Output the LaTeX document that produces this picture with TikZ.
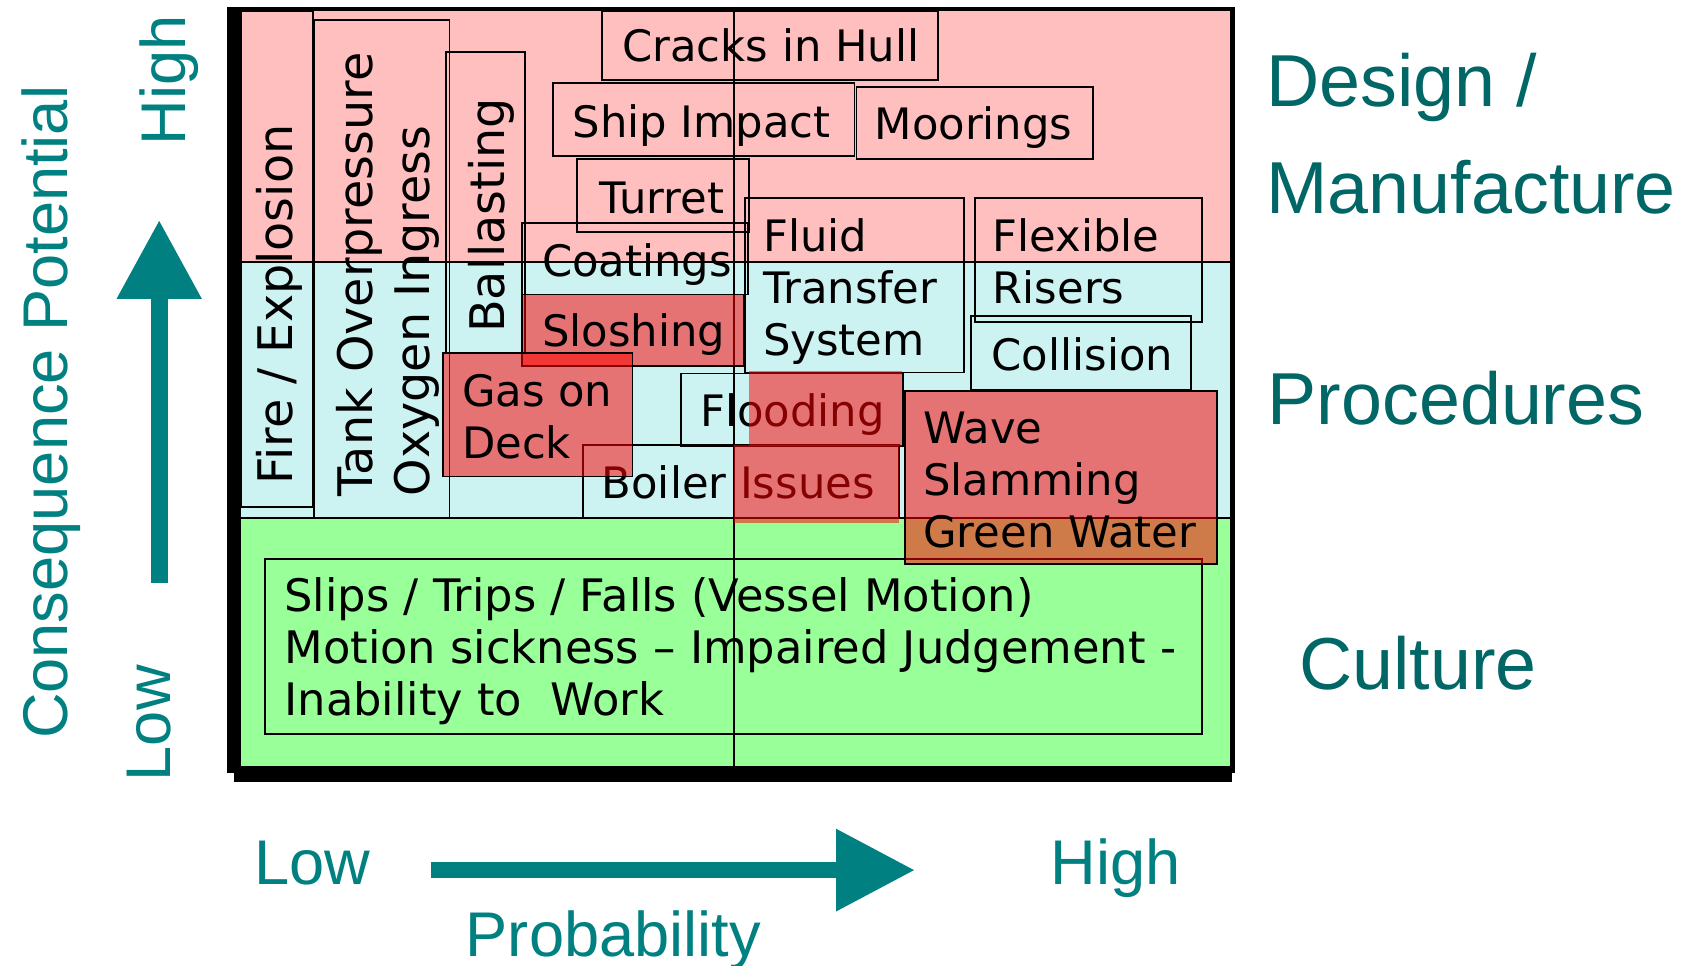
\documentclass[tikz,border=0pt]{standalone}
\usepackage{fontspec}
\newfontfamily\boxfont{DejaVu Sans}
\newfontfamily\axisfont{Liberation Sans}
\usetikzlibrary{arrows.meta}
\definecolor{riskpink}{RGB}{255,191,191}
\definecolor{riskcyan}{RGB}{204,242,242}
\definecolor{riskgreen}{RGB}{153,255,153}
\definecolor{axisteal}{RGB}{0,128,128}
\definecolor{bandteal}{RGB}{0,102,102}

\begin{document}
\begin{tikzpicture}[x=0.3pt,y=-0.3pt,
  hazard/.style={draw=black,line width=0.5pt},
  hot/.style={hazard,fill=red,fill opacity=0.52},
  hztext/.style={font=\boxfont\fontsize{12}{14.4}\selectfont,inner sep=0pt,anchor=base west,align=left},
  vtext/.style={font=\boxfont\fontsize{13.2}{16}\selectfont,inner sep=0pt,anchor=base west,align=left,rotate=90},
  axislabel/.style={font=\axisfont\fontsize{17.5}{21}\selectfont,text=axisteal,inner sep=0pt,anchor=base west},
  bandlabel/.style={font=\axisfont\fontsize{20.4}{29.7}\selectfont,text=bandteal,inner sep=0pt,anchor=base west,align=left}]
\useasboundingbox (0,0) rectangle (1568,892);

% frame with its shadow
\fill[black] (210,6.5) rectangle (1140.5,714);
\fill[black] (216,714) rectangle (1137.5,722);
% bands
\fill[riskpink] (223,10) rectangle (1136,242);
\fill[riskcyan] (223,242) rectangle (1136,478);
\fill[riskgreen] (223,478) rectangle (1136,707);
\draw[line width=0.5pt] (223,242) -- (1136,242);
\draw[line width=0.5pt] (223,478) -- (1136,478);
\draw[line width=0.5pt] (677.5,10) -- (677.5,707);

% upright hazards (multi-line texts sit on their last baseline)
\draw[hazard] (556,10) rectangle (866,74);
\node[hztext] (cracks) at (574,56.5) {Cracks in Hull};
\draw[hazard] (511,77) rectangle (789,144);
\node[hztext] (impact) at (528,127) {Ship Impact};
\draw[hazard] (791,80) rectangle (1009,147);
\node[hztext] (moorings) at (807,129) {Moorings};
\draw[hazard] (533,147) rectangle (692,214);
\node[hztext] (turret) at (553,197) {Turret};
\draw[hazard] (482,206) rectangle (691,272);
\node[hztext] (coatings) at (500,255) {Coatings};
\draw[hazard] (688,183) rectangle (890,344);
\node[hztext] (fluid) at (704,328) {Fluid\\Transfer\\System};
\draw[hazard] (900,183) rectangle (1110,297);
\node[hztext] (risers) at (916,280) {Flexible\\Risers};
\draw[hazard] (897,292) rectangle (1100,360);
\node[hztext] (collision) at (915,342) {Collision};
\draw[hazard] (629,345) rectangle (834,412);
\node[hztext] (flooding) at (646,394) {Flooding};
\draw[hazard] (538,411) rectangle (830,478);
\node[hztext] (boiler) at (555,460) {Boiler Issues};
\draw[hazard] (245,516) rectangle (1110,678);
\node[hztext,font=\boxfont\fontsize{12.4}{14.4}\selectfont] (slips) at (262,661) {Slips / Trips / Falls (Vessel Motion)\\Motion sickness – Impaired Judgement -\\Inability to\ \ Work};

% hazards written sideways
\draw[hazard] (223,10) rectangle (289,468);
\node[vtext] (fire) at (270,448) {Fire / Explosion};
\draw[hazard] (290,18.5) rectangle (415,478);
\node[vtext] (tank) at (397,459) {Tank Overpressure\\Oxygen Ingress};
\draw[hazard] (412,48) rectangle (485,326);
\node[vtext] (ballast) at (466,308) {Ballasting};

% red hot spots
\draw[hot] (482,272) rectangle (687,338);
\node[hztext] (sloshing) at (500,320) {Sloshing};
\draw[hot] (409,326) rectangle (584,440);
\node[hztext] (gas) at (426,423) {Gas on\\Deck};
\draw[hot] (836,361) rectangle (1124,521);
\node[hztext] (wave) at (852,506) {Wave\\Slamming\\Green Water};
\fill[red,fill opacity=0.52] (692,343) rectangle (833,412);
\fill[red,fill opacity=0.52] (678,411) rectangle (830,483);

% band names
\node[bandlabel] (design) at (1169,197) {Design /\\Manufacture};
\node[bandlabel] (procedures) at (1170,391.6) {Procedures};
\node[bandlabel] (culture) at (1199,637) {Culture};

% axes
\node[axislabel,rotate=90] (consequence) at (62,683) {Consequence Potential};
\node[axislabel,rotate=90] (cphigh) at (171,134.6) {High};
\node[axislabel,rotate=90] (cplow) at (157,722) {Low};
\coordinate (cpfoot) at (147,538);
\coordinate (cptip) at (147,203);
\draw[axisteal,line width=4.8pt,-{Triangle[width=22.2pt,length=21.9pt]}] (cpfoot) -- (cptip);
\node[axislabel] (problow) at (234,817) {Low};
\node[axislabel] (probhigh) at (969.5,817) {High};
\node[axislabel] (probability) at (429.5,883.5) {Probability};
\coordinate (prfoot) at (398,803.5);
\coordinate (prtip) at (845,803.5);
\draw[axisteal,line width=4.5pt,-{Triangle[width=21.6pt,length=21.9pt]}] (prfoot) -- (prtip);
\end{tikzpicture}
\end{document}
